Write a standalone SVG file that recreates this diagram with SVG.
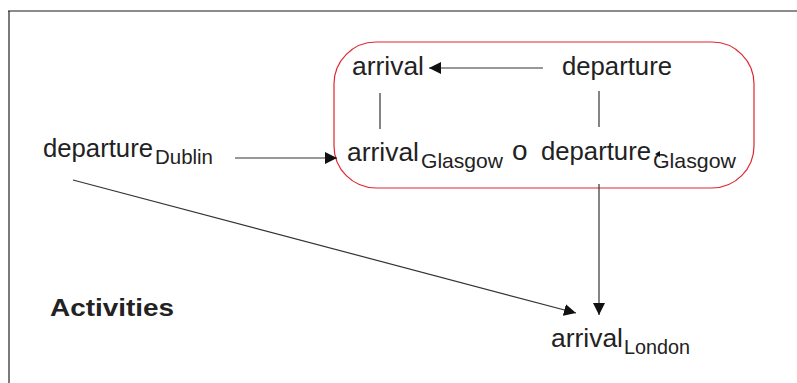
<svg xmlns="http://www.w3.org/2000/svg" width="797" height="383" viewBox="0 0 797 383">
<defs>
<style>
.t{font-family:"Liberation Sans",Arial,sans-serif;font-size:26px;fill:#222}
.s{font-size:21px}
.b{font-family:"Liberation Sans",Arial,sans-serif;font-size:24px;font-weight:bold;fill:#222}
.c{stroke:#333;stroke-width:1.2;fill:none}
</style>
<marker id="ah" viewBox="0 0 12 12" refX="12" refY="6" markerWidth="12" markerHeight="12" markerUnits="userSpaceOnUse" orient="auto">
<path d="M0,0 L12,6 L0,12 Z" fill="#111"/>
</marker>
</defs>
<rect width="797" height="383" fill="#fff"/>
<g id="frame">
<line x1="8" y1="11" x2="797" y2="11" stroke="#666" stroke-width="1.5"/>
<line x1="9" y1="11" x2="9" y2="383" stroke="#222" stroke-width="1.2"/>
</g>
<g id="group">
<rect x="334" y="42" width="420" height="146" rx="42" ry="42" fill="none" stroke="#e0262e" stroke-width="1.2"/>
</g>
<g id="arrival">
<text class="t" x="352" y="75" textLength="72" lengthAdjust="spacingAndGlyphs">arrival</text>
</g>
<g id="departure">
<text class="t" x="562" y="75" textLength="110" lengthAdjust="spacingAndGlyphs">departure</text>
</g>
<g id="arrivalGlasgow">
<text class="t" x="347" y="161"><tspan textLength="72" lengthAdjust="spacingAndGlyphs">arrival</tspan><tspan class="s" x="421" y="168" textLength="82" lengthAdjust="spacingAndGlyphs">Glasgow</tspan></text>
</g>
<g id="o">
<text class="t" x="512" y="160" style="font-size:28px">o</text>
</g>
<g id="departureGlasgow">
<text class="t" x="541" y="160"><tspan textLength="110" lengthAdjust="spacingAndGlyphs">departure</tspan><tspan class="s" x="653" y="168" textLength="83" lengthAdjust="spacingAndGlyphs">Glasgow</tspan></text>
<path d="M655,154 L660,151 L660,157 Z" fill="#111"/>
</g>
<g id="departureDublin">
<text class="t" x="43" y="157"><tspan textLength="110" lengthAdjust="spacingAndGlyphs">departure</tspan><tspan class="s" x="155" y="164" textLength="58" lengthAdjust="spacingAndGlyphs">Dublin</tspan></text>
</g>
<g id="arrivalLondon">
<text class="t" x="551" y="347"><tspan textLength="72" lengthAdjust="spacingAndGlyphs">arrival</tspan><tspan class="s" x="624" y="354" textLength="66" lengthAdjust="spacingAndGlyphs">London</tspan></text>
</g>
<g id="activities">
<text class="b" x="50" y="316" textLength="124" lengthAdjust="spacingAndGlyphs">Activities</text>
</g>
<g id="connectors">
<line class="c" x1="543" y1="68" x2="429" y2="68" marker-end="url(#ah)"/>
<line class="c" x1="380" y1="93" x2="380" y2="129"/>
<line class="c" x1="599" y1="91" x2="599" y2="127"/>
<line class="c" x1="235" y1="158" x2="337" y2="158" marker-end="url(#ah)"/>
<line class="c" x1="599" y1="184" x2="599" y2="315" marker-end="url(#ah)"/>
<line class="c" x1="73" y1="180" x2="576" y2="313" marker-end="url(#ah)"/>
</g>
</svg>
